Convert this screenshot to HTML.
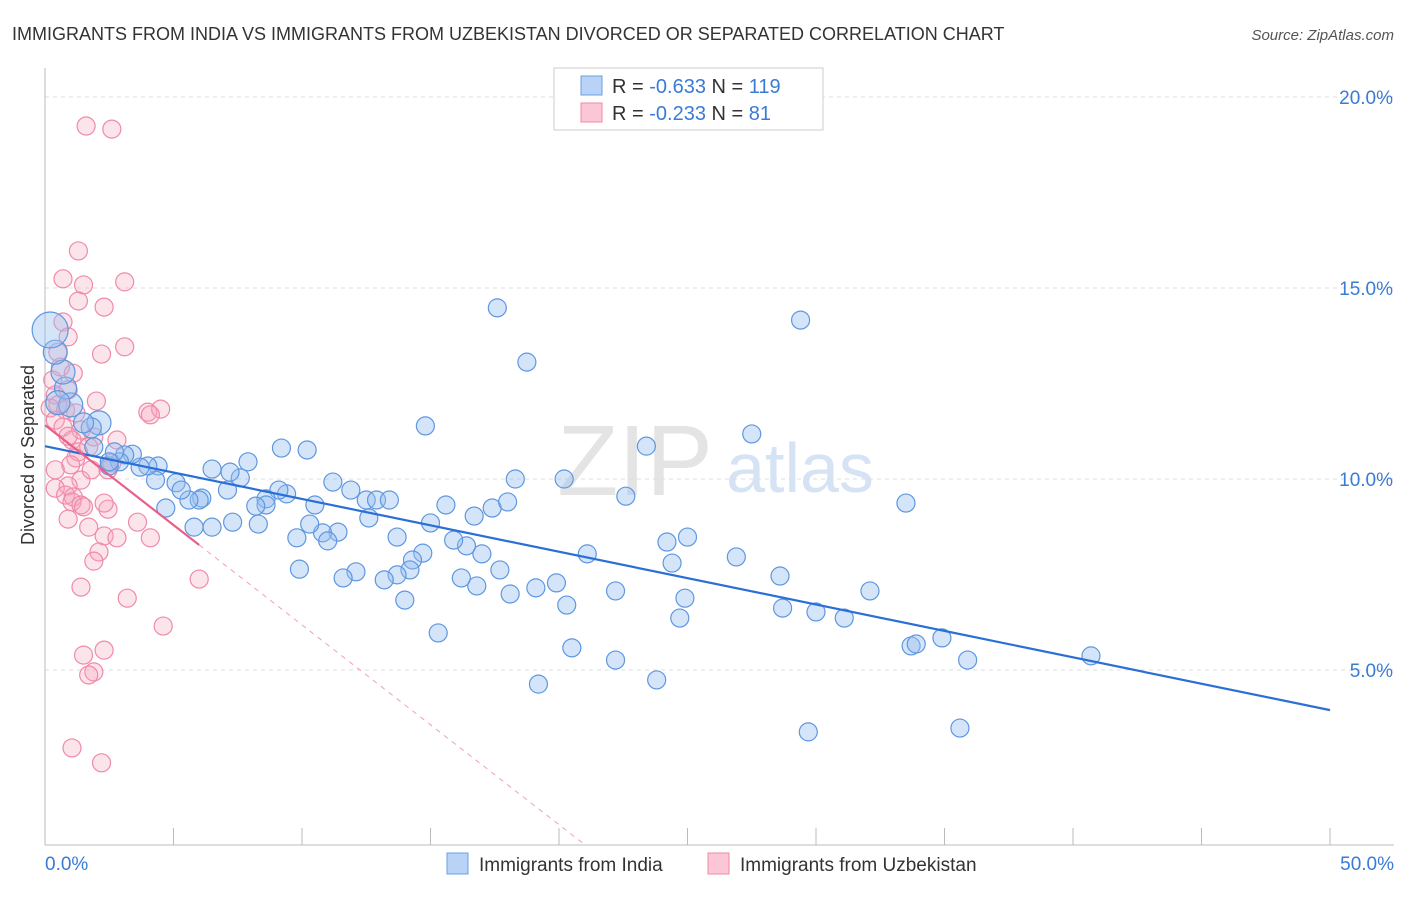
<!DOCTYPE html>
<html><head><meta charset="utf-8"><style>
body{margin:0;background:#fff;font-family:"Liberation Sans",sans-serif;}
svg text{font-family:"Liberation Sans",sans-serif;}
</style></head><body>
<svg id="c" width="1406" height="892" xmlns="http://www.w3.org/2000/svg">
<text x="12" y="40" font-size="18" fill="#333">IMMIGRANTS FROM INDIA VS IMMIGRANTS FROM UZBEKISTAN DIVORCED OR SEPARATED CORRELATION CHART</text>
<text x="1394" y="40" font-size="15" fill="#555" font-style="italic" text-anchor="end">Source: ZipAtlas.com</text>
<text transform="translate(34,455) rotate(-90)" font-size="18" fill="#333" text-anchor="middle">Divorced or Separated</text>
<text x="635" y="495" font-size="100" fill="#e4e4e4" font-family="Liberation Serif" text-anchor="middle">ZIP</text>
<text x="800" y="492" font-size="70" fill="#d6e3f5" text-anchor="middle">atlas</text>
<g id="grid"></g><g id="axes"></g><g id="pts"></g><g id="trend"></g>
<g>
<rect x="554" y="68" width="269" height="62" fill="#fff" stroke="#ccc"/>
<rect x="581" y="76" width="21" height="19" fill="#b8d3f5" stroke="#6a9fe0"/>
<rect x="581" y="103" width="21" height="19" fill="#fbc7d7" stroke="#f08aaa"/>
<text x="612" y="93" font-size="20" fill="#333">R = <tspan fill="#3a7bd5">-0.633</tspan>   N = <tspan fill="#3a7bd5">119</tspan></text>
<text x="612" y="120" font-size="20" fill="#333">R = <tspan fill="#3a7bd5">-0.233</tspan>   N = <tspan fill="#3a7bd5">  81</tspan></text>
</g>
<g>
<rect x="447" y="853" width="21" height="21" fill="#b8d3f5" stroke="#6a9fe0"/>
<text x="479" y="871" font-size="19" fill="#333">Immigrants from India</text>
<rect x="708" y="853" width="21" height="21" fill="#fbc7d7" stroke="#f08aaa"/>
<text x="740" y="871" font-size="19" fill="#333">Immigrants from Uzbekistan</text>
</g>
</svg>
<script>
const xTicks=[0,5,10,15,20,25,30,35,40,45,50];
const yTicks=[5,10,15,20];
const indiaX=[17.6,29.4,18.75,14.8,27.5,23.4,10.2,9.2,18.3,20.2,33.5,22.6,40.7,35.6,29.7,35.9,34.9,33.7,33.9,32.1,31.1,30.0,28.7,28.6,26.9,25.0,24.2,24.4,24.9,24.7,22.2,23.8,22.2,20.5,19.2,21.1,19.9,20.3,19.1,18.1,17.7,17.0,16.8,16.2,16.4,15.9,16.7,17.4,18.0,15.6,15.0,14.7,14.3,14.2,13.7,13.2,14.0,15.3,13.7,12.6,12.5,12.9,13.4,11.9,11.2,12.1,11.6,11.4,10.8,11.0,10.3,10.5,9.8,9.9,9.4,9.1,8.6,8.6,8.2,8.3,7.6,7.9,7.2,7.3,6.5,7.1,6.5,6.1,6.0,5.8,5.6,5.1,5.3,4.7,4.4,4.3,4.0,3.7,3.4,3.1,2.9,2.5,2.7,2.1,1.8,1.5,1.0,0.8,0.7,0.4,0.2,0.5,1.9,2.5];
const indiaY=[14.48,14.16,13.06,11.39,11.18,10.86,10.76,10.81,10.0,10.0,9.37,9.55,5.37,3.48,3.38,5.26,5.84,5.63,5.68,7.07,6.36,6.52,6.62,7.46,7.96,8.48,8.35,7.80,6.88,6.36,7.07,4.74,5.26,5.58,4.63,8.04,7.28,6.70,7.15,6.99,7.62,8.04,7.20,7.41,8.25,8.40,9.03,9.24,9.40,9.32,8.85,8.06,7.88,7.62,7.49,7.36,6.83,5.97,8.48,8.98,9.45,9.45,9.45,9.71,9.92,7.57,7.41,8.61,8.59,8.38,8.82,9.32,8.46,7.64,9.61,9.71,9.48,9.32,9.29,8.82,10.03,10.45,10.18,8.87,10.26,9.71,8.74,9.50,9.45,8.74,9.45,9.90,9.71,9.24,10.34,9.97,10.34,10.31,10.65,10.63,10.45,10.34,10.71,11.47,11.34,11.47,11.94,12.38,12.80,13.32,13.9,12.0,10.84,10.45];
const indiaR=[9,9,9,9,9,9,9,9,9,9,9,9,9,9,9,9,9,9,9,9,9,9,9,9,9,9,9,9,9,9,9,9,9,9,9,9,9,9,9,9,9,9,9,9,9,9,9,9,9,9,9,9,9,9,9,9,9,9,9,9,9,9,9,9,9,9,9,9,9,9,9,9,9,9,9,9,9,9,9,9,9,9,9,9,9,9,9,9,9,9,9,9,9,9,9,9,9,9,9,9,9,9,9,12,10,10,12,11,12,12,18,12,9,9];
const uzbX=[1.6,2.6,1.3,0.7,1.5,3.1,1.3,2.3,0.7,0.9,3.1,2.2,0.5,0.6,1.1,0.3,0.9,0.4,2.0,0.5,0.2,0.8,1.2,4.0,4.5,4.1,0.4,0.7,1.4,1.9,1.05,0.9,2.8,1.7,1.3,1.2,1.0,2.6,2.45,0.4,1.4,0.9,0.4,0.8,1.1,1.05,1.4,0.9,2.45,1.5,3.6,1.7,2.3,2.8,4.1,2.1,1.9,1.4,6.0,3.2,4.6,2.3,1.5,1.9,1.7,1.05,2.2,2.3,1.8];
const uzbY=[19.24,19.16,15.97,15.24,15.08,15.16,14.66,14.50,14.11,13.72,13.46,13.27,13.32,12.93,12.77,12.59,12.33,12.20,12.04,11.94,11.86,11.81,11.73,11.75,11.83,11.68,11.54,11.36,11.28,11.10,11.02,11.12,11.02,10.84,10.71,10.55,10.37,10.42,10.24,10.24,9.97,9.82,9.76,9.58,9.53,9.40,9.32,8.95,9.21,9.27,8.87,8.74,8.51,8.46,8.46,8.09,7.85,7.17,7.38,6.88,6.15,5.52,5.39,4.95,4.87,2.96,2.57,9.37,10.24];
const indiaTrend=[10.86,3.95];
const uzbTrend=[11.41,-0.523];
const NS="http://www.w3.org/2000/svg";
const sx=v=>45+v*25.7, sy=v=>861-v*38.2;
function mk(t,a,p){const e=document.createElementNS(NS,t);for(const k in a)e.setAttribute(k,a[k]);document.getElementById(p).appendChild(e);return e;}
yTicks.forEach(t=>{
 const l=mk('line',{x1:45,x2:1394,y1:sy(t),y2:sy(t),stroke:'#ddd','stroke-dasharray':'4,4'},'grid');
 
 
 const tx=mk('text',{x:1393,y:sy(t)+7,'font-size':19,fill:'#3a7bd5','text-anchor':'end'},'grid');
 tx.textContent=t.toFixed(1)+'%';
 
 
});
const ax=mk('line',{x1:45,x2:1394,y1:845,y2:845,stroke:'#bbb'},'axes');


const ay=mk('line',{x1:45,x2:45,y1:68,y2:845,stroke:'#bbb'},'axes');


xTicks.forEach(t=>{
 const l=mk('line',{x1:sx(t),x2:sx(t),y1:828,y2:845,stroke:'#bbb'},'axes');
 
 
});
[[0,'0.0%','start',45],[50,'50.0%','end',1394]].forEach(d=>{
 const tx=mk('text',{x:d[3],y:870,'font-size':19,fill:'#3a7bd5','text-anchor':d[2]},'axes');
 tx.textContent=d[1];
 
 
});
uzbX.forEach((x,i)=>{
 const c=mk('circle',{cx:sx(x),cy:sy(uzbY[i]),r:9,fill:'rgba(245,165,190,0.3)',stroke:'#f08aaa','stroke-width':1.2},'pts');
 
 
});
indiaX.forEach((x,i)=>{
 const c=mk('circle',{cx:sx(x),cy:sy(indiaY[i]),r:indiaR[i],fill:'rgba(150,190,240,0.4)',stroke:'#5e97e0','stroke-width':1.2},'pts');
 
 
});
const bt=mk('line',{x1:sx(0),y1:sy(indiaTrend[0]),x2:sx(50),y2:sy(indiaTrend[1]),stroke:'#2a6fd6','stroke-width':2.2},'trend');


const xe=6, xz=(0.42-uzbTrend[0])/uzbTrend[1];
const pt=mk('line',{x1:sx(0),y1:sy(uzbTrend[0]),x2:sx(xe),y2:sy(uzbTrend[0]+uzbTrend[1]*xe),stroke:'#e8608a','stroke-width':2.2},'trend');


const pd=mk('line',{x1:sx(xe),y1:sy(uzbTrend[0]+uzbTrend[1]*xe),x2:sx(xz),y2:sy(0.42),stroke:'#f0a0b8','stroke-width':1,'stroke-dasharray':'5,5'},'trend');


</script>
</body></html>
